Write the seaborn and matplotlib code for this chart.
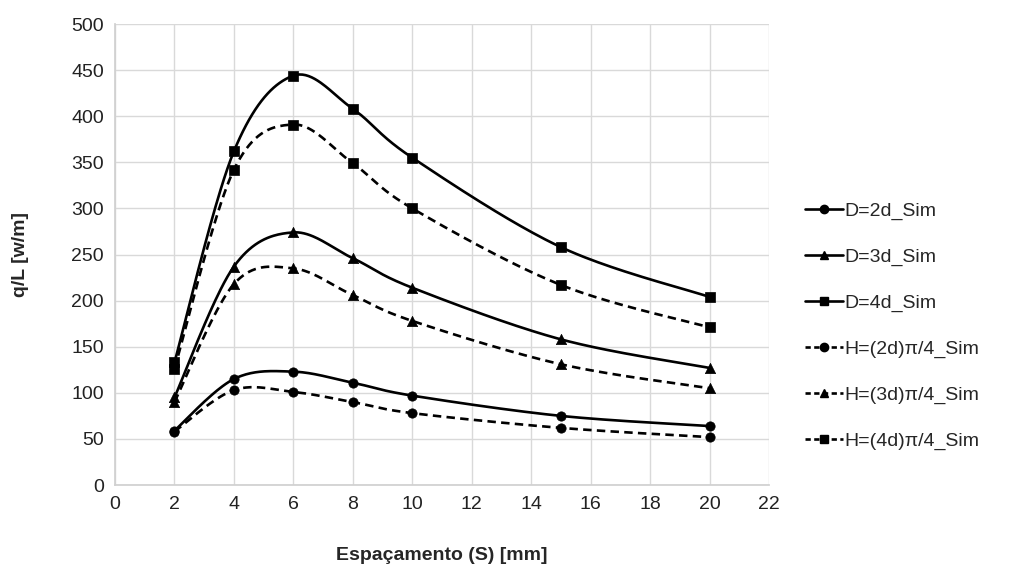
import numpy as np
import matplotlib
matplotlib.use("Agg")
import matplotlib.pyplot as plt
import seaborn as sns
from matplotlib.lines import Line2D

# ---- data ----
S = [2, 4, 6, 8, 10, 15, 20]
D2 = [59, 115, 123, 111, 97, 75, 64]
D3 = [95, 237, 274, 246, 214, 158, 127]
D4 = [133, 362, 444, 408, 355, 258, 204]
H2 = [58, 103, 101, 90, 78, 62, 52]
H3 = [90, 218, 235, 206, 178, 131, 105]
H4 = [126, 342, 391, 349, 300, 217, 171]
labels = ["D=2d_Sim", "D=3d_Sim", "D=4d_Sim",
          "H=(2d)\u03c0/4_Sim", "H=(3d)\u03c0/4_Sim", "H=(4d)\u03c0/4_Sim"]
series = [D2, D3, D4, H2, H3, H4]
markers = ["o", "^", "s", "o", "^", "s"]
styles = ["solid", "solid", "solid", "dashed", "dashed", "dashed"]
xticks = list(range(0, 23, 2))
yticks = list(range(0, 501, 50))

sns.set_theme(style="white")
plt.rcParams["font.family"] = ["Liberation Sans", "DejaVu Sans"]

fig = plt.figure(figsize=(10.14, 5.72), dpi=100)
ax = fig.add_axes([0.1134, 0.152, 0.645, 0.806])

XS, YS = 654 / 22.0, 462 / 500.0  # approx pixel scale for smoothing


def smooth(xs, ys, n=40):
    p = np.column_stack([np.asarray(xs, float) * XS, np.asarray(ys, float) * YS])
    out = []
    m = len(p)
    for i in range(m - 1):
        p0 = p[i - 1] if i > 0 else p[i]
        p1, p2 = p[i], p[i + 1]
        p3 = p[i + 2] if i + 2 < m else p[i + 1]
        c1 = p1 + (p2 - p0) / 6.0
        c2 = p2 - (p3 - p1) / 6.0
        t = np.linspace(0, 1, n)[:, None]
        b = ((1 - t) ** 3) * p1 + 3 * ((1 - t) ** 2) * t * c1 + 3 * (1 - t) * t ** 2 * c2 + t ** 3 * p2
        out.append(b if i == 0 else b[1:])
    b = np.vstack(out)
    return b[:, 0] / XS, b[:, 1] / YS


for ys, mk, ls in zip(series, markers, styles):
    sx, sy = smooth(S, ys)
    sns.lineplot(x=sx, y=sy, ax=ax, color="black", lw=1.9, sort=False)
    if ls == "dashed":
        ax.lines[-1].set_dashes([3.2, 2.0])
    ms = 55 if mk != "o" else 45
    sns.scatterplot(x=S, y=ys, ax=ax, marker=mk, color="black", s=ms,
                    edgecolor="black", linewidth=0.5, zorder=5)

ax.set_xlim(0, 22)
ax.set_ylim(0, 500)
ax.set_xticks(xticks)
ax.set_yticks(yticks)
ax.grid(True, color="#d9d9d9", lw=1)
for side in ["top", "right"]:
    ax.spines[side].set_visible(False)
for side in ["left", "bottom"]:
    ax.spines[side].set_color("#d0d0d0")
ax.tick_params(axis="both", labelsize=14, colors="#222222", length=0, pad=8)
ax.set_xlabel("Espaçamento (S) [mm]", fontsize=14, fontweight="bold", labelpad=24)
ax.set_ylabel("q/L [w/m]", fontsize=14, fontweight="bold", labelpad=30)

handles = []
for lab, mk, ls in zip(labels, markers, styles):
    h = Line2D([], [], color="black", lw=1.9, marker=mk, markersize=6,
               linestyle="-" if ls == "solid" else (0, (2.0, 1.3)))
    handles.append(h)
fig.legend(handles=handles, labels=labels, loc="upper left",
           bbox_to_anchor=(0.786, 0.66), frameon=False, fontsize=14,
           handlelength=1.95, handletextpad=0.1, labelspacing=1.45,
           borderaxespad=0)

fig.savefig("out.png", dpi=100)
